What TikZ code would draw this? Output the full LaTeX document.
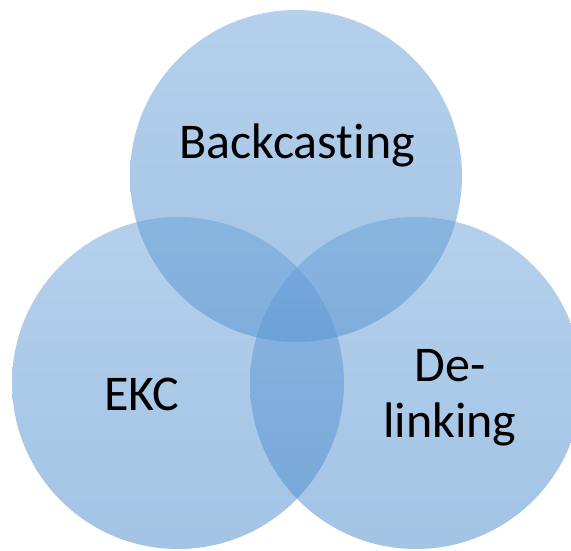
\documentclass[tikz,border=0pt]{standalone}
\usepackage{fontspec}
\setmainfont{Carlito}[Ligatures={NoCommon,NoContextual}]
\definecolor{venntop}{RGB}{105,161,217}
\definecolor{vennbot}{RGB}{71,137,203}
\tikzset{
  venn/.style={circle,minimum size=332pt,inner sep=0pt,top color=venntop,bottom color=vennbot,fill opacity=0.5},
  lbl/.style={font=\fontsize{50}{56}\selectfont,align=center,text=black,text opacity=1}
}
\begin{document}
\begin{tikzpicture}[x=1pt,y=-1pt]
  \useasboundingbox (0,0) rectangle (571,550);
  \clip (0,0) rectangle (571,550);
  % the three sets
  \node[venn] (back) at (296,176) {};
  \node[venn] (ekc) at (178,383) {};
  \node[venn] (delink) at (416,383) {};
  % labels
  \node[lbl,anchor=base] (backtxt) at (297,158) {Backcasting};
  \node[lbl,anchor=base] (ekctxt) at (142,410) {EKC};
  \node[lbl] (delinktxt) at (450,398) {De-\\linking};
\end{tikzpicture}
\end{document}
